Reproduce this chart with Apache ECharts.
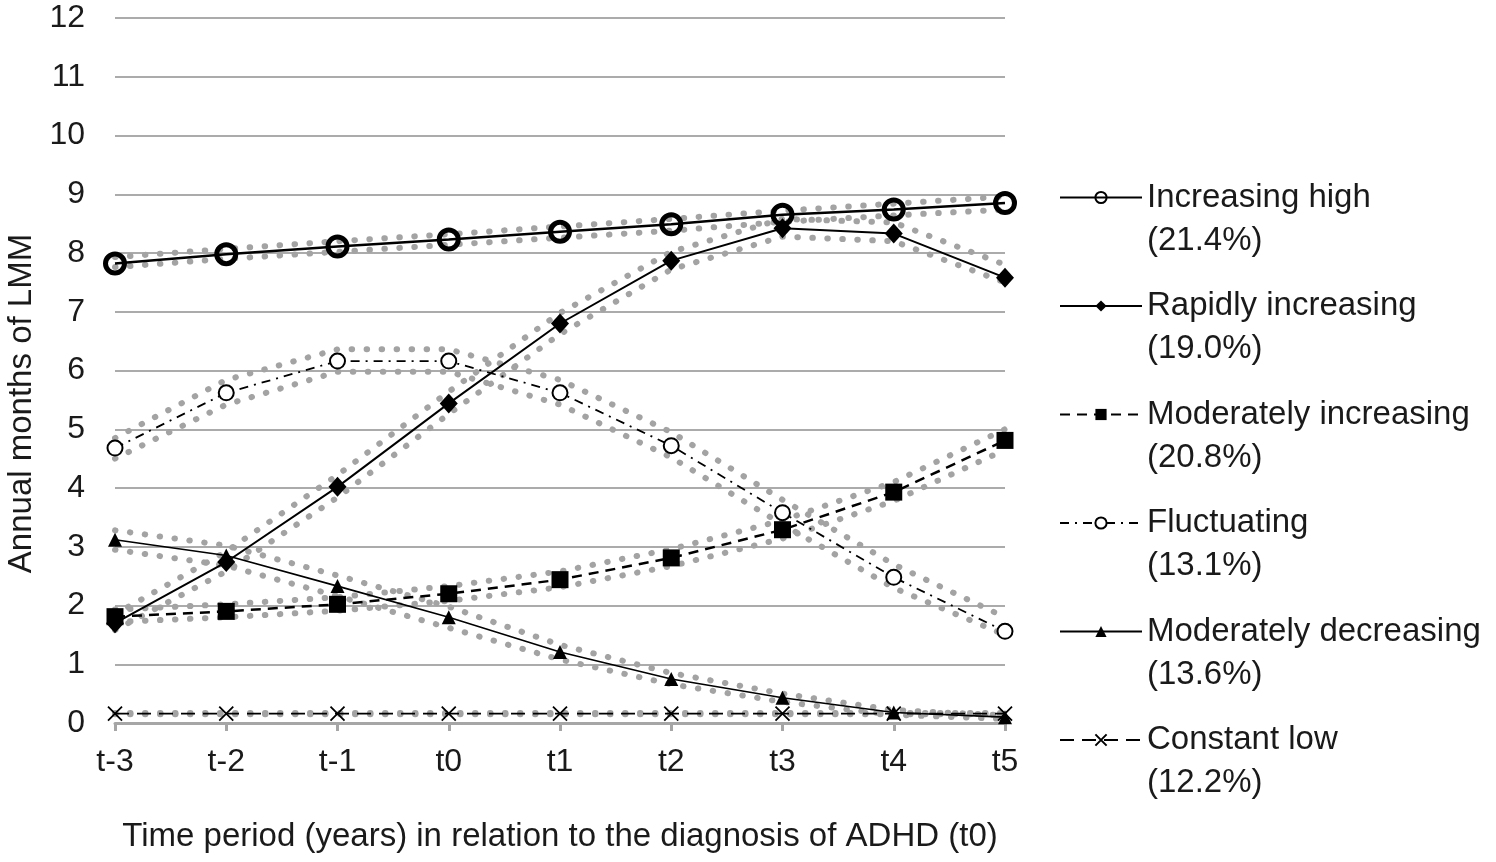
<!DOCTYPE html>
<html>
<head>
<meta charset="utf-8">
<script src="https://cdn.jsdelivr.net/npm/echarts@6/dist/echarts.min.js"></script>
<style>
html,body{margin:0;padding:0;background:#fff;}
#chart{width:1496px;height:862px;}
</style>
</head>
<body>
<div id="chart"></div>
<script>
const categories = ['t-3','t-2','t-1','t0','t1','t2','t3','t4','t5'];
const yTicks = [0,1,2,3,4,5,6,7,8,9,10,11,12];

const seriesNames = [
  'Increasing high\n(21.4%)',
  'Rapidly increasing\n(19.0%)',
  'Moderately increasing\n(20.8%)',
  'Fluctuating\n(13.1%)',
  'Moderately decreasing\n(13.6%)',
  'Constant low\n(12.2%)'
];

// observed trajectories
const increasingHigh       = [7.82, 7.98, 8.11, 8.23, 8.36, 8.49, 8.65, 8.74, 8.85];
const rapidlyIncreasing    = [1.70, 2.74, 4.02, 5.44, 6.80, 7.87, 8.42, 8.33, 7.58];
const moderatelyIncreasing = [1.81, 1.90, 2.02, 2.20, 2.44, 2.81, 3.29, 3.93, 4.81];
const fluctuating          = [4.68, 5.62, 6.16, 6.16, 5.62, 4.72, 3.58, 2.48, 1.56];
const moderatelyDecreasing = [3.12, 2.85, 2.33, 1.80, 1.21, 0.75, 0.43, 0.18, 0.10];
const constantLow          = [0.16, 0.16, 0.16, 0.16, 0.16, 0.16, 0.16, 0.16, 0.16];

// dotted grey bands (upper / lower)
const ihUpper = [7.93, 8.07, 8.20, 8.32, 8.45, 8.58, 8.72, 8.84, 8.96];
const ihLower = [7.76, 7.90, 8.02, 8.14, 8.26, 8.38, 8.53, 8.64, 8.74];
const riUpper = [1.85, 2.92, 4.22, 5.64, 6.98, 8.02, 8.58, 8.52, 7.80];
const riLower = [1.58, 2.58, 3.84, 5.26, 6.62, 7.72, 8.28, 8.20, 7.50];
const miUpper = [1.93, 2.02, 2.14, 2.33, 2.58, 2.96, 3.45, 4.10, 5.00];
const miLower = [1.72, 1.80, 1.91, 2.08, 2.31, 2.67, 3.14, 3.78, 4.65];
const flUpper = [4.85, 5.84, 6.36, 6.36, 5.84, 4.95, 3.80, 2.70, 1.80];
const flLower = [4.50, 5.42, 5.98, 5.98, 5.42, 4.52, 3.38, 2.30, 1.50];
const mdUpper = [3.28, 3.02, 2.51, 1.98, 1.33, 0.85, 0.50, 0.22, 0.13];
const mdLower = [2.95, 2.68, 2.16, 1.62, 1.08, 0.66, 0.36, 0.14, 0.07];
const clUpper = [0.17, 0.17, 0.17, 0.17, 0.17, 0.17, 0.17, 0.17, 0.17];
const clLower = [0.15, 0.15, 0.15, 0.15, 0.15, 0.15, 0.15, 0.15, 0.15];

const FONT = '"Liberation Sans", Arial, sans-serif';
const TXT = '#1a1a1a';

function band(data) {
  return {
    type: 'line', data: data, symbol: 'none', silent: true, z: 1,
    lineStyle: { color: '#a3a3a3', width: 6, type: [0.5, 14.5], cap: 'round' },
    emphasis: { disabled: true }, tooltip: { show: false }
  };
}

const mainSeries = [
  { name: seriesNames[0], data: increasingHigh, symbol: 'circle', symbolSize: 19,
    itemStyle: { color: 'rgba(255,255,255,0)', borderColor: '#000', borderWidth: 5 },
    lineStyle: { color: '#000', width: 2.5, type: 'solid' } },
  { name: seriesNames[1], data: rapidlyIncreasing, symbol: 'diamond', symbolSize: [18, 20],
    itemStyle: { color: '#000', borderColor: '#000', borderWidth: 0 },
    lineStyle: { color: '#000', width: 2, type: 'solid' } },
  { name: seriesNames[2], data: moderatelyIncreasing, symbol: 'rect', symbolSize: 17,
    itemStyle: { color: '#000', borderColor: '#000', borderWidth: 0 },
    lineStyle: { color: '#000', width: 2.5, type: [10, 7] } },
  { name: seriesNames[3], data: fluctuating, symbol: 'circle', symbolSize: 15,
    itemStyle: { color: '#fff', borderColor: '#000', borderWidth: 2 },
    lineStyle: { color: '#000', width: 1.8, type: [9, 6, 2, 6] } },
  { name: seriesNames[4], data: moderatelyDecreasing, symbol: 'triangle', symbolSize: 14,
    itemStyle: { color: '#000', borderColor: '#000', borderWidth: 0 },
    lineStyle: { color: '#000', width: 1.6, type: 'solid' } },
  { name: seriesNames[5], data: constantLow, symbol: 'path://M0,0L10,10M0,10L10,0', symbolSize: 14,
    symbolKeepAspect: true,
    itemStyle: { color: '#000', borderColor: '#000', borderWidth: 1.8 },
    lineStyle: { color: '#000', width: 1.6, type: [14, 8] } }
].map(s => Object.assign({ type: 'line', z: 3, showSymbol: true, emphasis: { disabled: true } }, s));

const chart = echarts.init(document.getElementById('chart'), null, { renderer: 'canvas' });
chart.setOption({
  backgroundColor: '#fff',
  animation: false,
  grid: { left: 115, right: 491, top: 18, bottom: 139, containLabel: false, outerBoundsMode: 'none' },
  legend: {
    data: seriesNames,
    orient: 'vertical',
    left: 1059, top: 133,
    padding: 0,
    itemWidth: 82, itemHeight: 14,
    itemGap: -20.5,
    selectedMode: false,
    formatter: function (name) { return ' \n' + name; },
    textStyle: { fontFamily: FONT, fontSize: 33, lineHeight: 43, color: TXT }
  },
  xAxis: {
    type: 'category',
    data: categories,
    boundaryGap: false,
    name: 'Time period (years) in relation to the diagnosis of ADHD (t0)',
    nameLocation: 'middle',
    nameGap: 97,
    nameTextStyle: { fontFamily: FONT, fontSize: 33, color: TXT },
    axisLine: { lineStyle: { color: '#a6a6a6', width: 3 } },
    axisTick: { show: true, length: 8, lineStyle: { color: '#a6a6a6', width: 3 } },
    axisLabel: { fontFamily: FONT, fontSize: 32, color: TXT, margin: 23 },
    splitLine: { show: false }
  },
  yAxis: {
    type: 'value',
    min: yTicks[0], max: yTicks[yTicks.length - 1], interval: 1,
    name: 'Annual months of LMM',
    nameLocation: 'middle',
    nameGap: 77,
    nameTextStyle: { fontFamily: FONT, fontSize: 33, color: TXT, padding: [0, 66, 0, 0] },
    axisLine: { show: false },
    axisTick: { show: false },
    axisLabel: { fontFamily: FONT, fontSize: 32, color: TXT, margin: 30 },
    splitLine: { lineStyle: { color: '#ababab', width: 2 } }
  },
  series: [
    band(ihUpper), band(ihLower),
    band(riUpper), band(riLower),
    band(miUpper), band(miLower),
    band(flUpper), band(flLower),
    band(mdUpper), band(mdLower),
    band(clUpper), band(clLower)
  ].concat(mainSeries)
});
</script>
</body>
</html>
